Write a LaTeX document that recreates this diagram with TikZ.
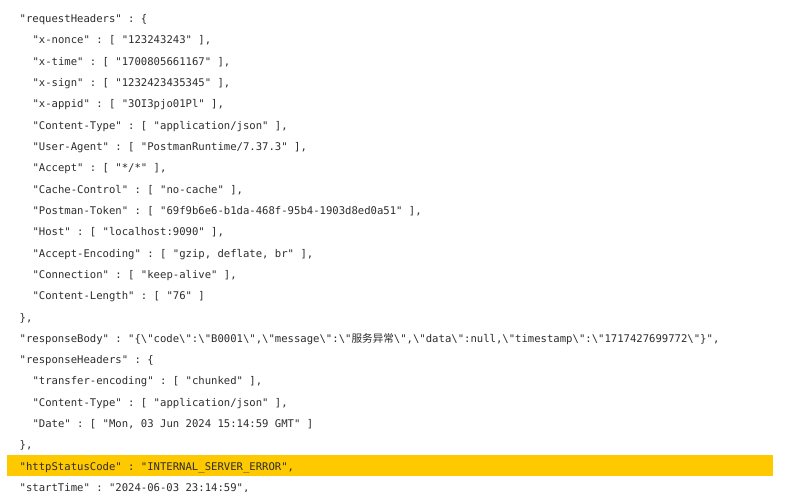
\documentclass[tikz,border=0pt]{standalone}
\usepackage{fontspec}
\setmonofont{DejaVu Sans Mono}
\newfontfamily\cjk{Noto Sans CJK SC}
\definecolor{codetext}{RGB}{45,45,45}
\definecolor{hlyellow}{RGB}{255,201,0}
\newcommand{\bq}{\textbackslash"}
\tikzset{codeline/.style={anchor=base west,inner sep=0pt,text=codetext,
  font=\ttfamily\fontsize{10.6}{12}\selectfont}}
\begin{document}
\begin{tikzpicture}[x=1pt,y=1pt]
    \clip (0,0) rectangle (811,-492);
    \fill [white] (0,0) rectangle (811,-492);
    \fill [hlyellow] (7,-455) rectangle (773,-476);
    \node [codeline] (reqh) at (19.5,-22.5) {"requestHeaders" : \{};
    \node [codeline] (nonce) at (32.3,-43.8) {"x-nonce" : [ "123243243" ],};
    \node [codeline] (xtime) at (32.3,-65.1) {"x-time" : [ "1700805661167" ],};
    \node [codeline] (xsign) at (32.3,-86.5) {"x-sign" : [ "1232423435345" ],};
    \node [codeline] (appid) at (32.3,-107.8) {"x-appid" : [ "3OI3pjo01Pl" ],};
    \node [codeline] (ctype) at (32.3,-129.1) {"Content-Type" : [ "application/json" ],};
    \node [codeline] (agent) at (32.3,-150.4) {"User-Agent" : [ "PostmanRuntime/7.37.3" ],};
    \node [codeline] (accept) at (32.3,-171.7) {"Accept" : [ "*/*" ],};
    \node [codeline] (cache) at (32.3,-193.1) {"Cache-Control" : [ "no-cache" ],};
    \node [codeline] (token) at (32.3,-214.4) {"Postman-Token" : [ "69f9b6e6-b1da-468f-95b4-1903d8ed0a51" ],};
    \node [codeline] (host) at (32.3,-235.7) {"Host" : [ "localhost:9090" ],};
    \node [codeline] (enc) at (32.3,-257.0) {"Accept-Encoding" : [ "gzip, deflate, br" ],};
    \node [codeline] (conn) at (32.3,-278.3) {"Connection" : [ "keep-alive" ],};
    \node [codeline] (clen) at (32.3,-299.7) {"Content-Length" : [ "76" ]};
    \node [codeline] (reqend) at (19.5,-321.0) {\},};
    \node [codeline] (body) at (19.5,-342.3) {"responseBody" : "\{\bq code\bq:\bq B0001\bq,\bq message\bq:\bq{\cjk 服务异常}\bq,\bq data\bq:null,\bq timestamp\bq:\bq 1717427699772\bq\}",};
    \node [codeline] (resh) at (19.5,-363.6) {"responseHeaders" : \{};
    \node [codeline] (tenc) at (32.3,-384.9) {"transfer-encoding" : [ "chunked" ],};
    \node [codeline] (rtype) at (32.3,-406.3) {"Content-Type" : [ "application/json" ],};
    \node [codeline] (date) at (32.3,-427.6) {"Date" : [ "Mon, 03 Jun 2024 15:14:59 GMT" ]};
    \node [codeline] (resend) at (19.5,-448.9) {\},};
    \node [codeline] (status) at (19.5,-470.2) {"httpStatusCode" : "INTERNAL\_SERVER\_ERROR",};
    \node [codeline] (start) at (19.5,-491.5) {"startTime" : "2024-06-03 23:14:59",};
\end{tikzpicture}
\end{document}
